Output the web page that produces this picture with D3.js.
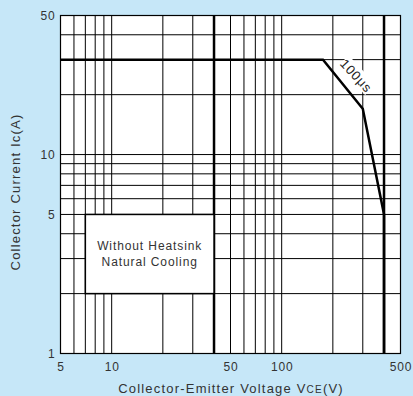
<!DOCTYPE html>
<html><head><meta charset="utf-8">
<script src="https://cdn.jsdelivr.net/npm/d3@7"></script>
<style>
html,body{margin:0;padding:0;background:#c6e7f8;}
svg{display:block;font-family:"Liberation Sans",Arial,sans-serif;}
</style></head>
<body>
<script>
// Data
const xGrid = [6,7,8,9,10,20,30,40,50,60,70,80,90,100,200,300,400];
const xThick = [40,400];
const yGrid = [2,3,4,5,6,7,8,9,10,20,30,40];
const xTickLabels = [5,10,50,100,500];
const yTickLabels = [1,5,10,50];
const soaVoltage = [5,175,300,400,400];
const soaCurrent = [30,30,17,5,1];
const boxVoltage = [7,40];
const boxCurrent = [5,2];
const boxLines = ["Without Heatsink","Natural Cooling"];
const pulseLabel = "100μs";

const W=413,H=396;
const svg=d3.select("body").append("svg").attr("width",W).attr("height",H);
svg.append("rect").attr("width",W).attr("height",H).attr("fill","#c6e7f8");

const x=d3.scaleLog().domain([5,500]).range([60.5,400.5]);
const y=d3.scaleLog().domain([1,50]).range([353.5,15.5]);

svg.append("rect").attr("x",x(5)).attr("y",y(50)).attr("width",x(500)-x(5)).attr("height",y(1)-y(50)).attr("fill","#fff");

const g=svg.append("g");
g.selectAll("line.vx").data(xGrid).join("line")
 .attr("x1",d=>x(d)).attr("x2",d=>x(d)).attr("y1",y(50)).attr("y2",y(1))
 .attr("stroke","#000").attr("stroke-width",d=>xThick.includes(d)?2.5:1);
g.selectAll("line.hy").data(yGrid).join("line")
 .attr("x1",x(5)).attr("x2",x(500)).attr("y1",d=>y(d)).attr("y2",d=>y(d))
 .attr("stroke","#000").attr("stroke-width",1);

// border
svg.append("rect").attr("x",x(5)).attr("y",y(50)).attr("width",x(500)-x(5)).attr("height",y(1)-y(50))
 .attr("fill","none").attr("stroke","#000").attr("stroke-width",1.2);

// box
svg.append("rect").attr("x",x(boxVoltage[0])).attr("y",y(boxCurrent[0]))
 .attr("width",x(boxVoltage[1])-x(boxVoltage[0])).attr("height",y(boxCurrent[1])-y(boxCurrent[0]))
 .attr("fill","#fff").attr("stroke","#000").attr("stroke-width",1.5);
const bcx=(x(boxVoltage[0])+x(boxVoltage[1]))/2;
svg.selectAll("text.box").data(boxLines).join("text")
 .attr("x",bcx).attr("y",(d,i)=>249.5+i*16).attr("text-anchor","middle")
 .attr("font-size",12).attr("letter-spacing",0.9).attr("fill","#333").text(d=>d);

// SOA line
const pts=soaVoltage.map((v,i)=>[x(v),y(soaCurrent[i])]);
svg.append("path").attr("d",d3.line()(pts)).attr("fill","none").attr("stroke","#000")
 .attr("stroke-width",2.5).attr("stroke-linejoin","miter");

// 100us label
const lx=(x(soaVoltage[1])+x(soaVoltage[2]))/2+13, ly=(y(soaCurrent[1])+y(soaCurrent[2]))/2-8;
const lg=svg.append("g").attr("transform",`translate(${lx},${ly}) rotate(47)`);
lg.append("rect").attr("x",-20).attr("y",-9).attr("width",40).attr("height",15).attr("fill","#fff");
lg.append("text").attr("x",0).attr("y",4).attr("text-anchor","middle").attr("font-size",13)
 .attr("letter-spacing",0.9).attr("fill","#222").text(pulseLabel);

// axes
const ax=svg.append("g").attr("transform",`translate(0,${y(1)})`)
 .call(d3.axisBottom(x).tickValues(xTickLabels).tickFormat(d3.format("d")).tickSize(0).tickPadding(9));
const ay=svg.append("g").attr("transform",`translate(${x(5)},0)`)
 .call(d3.axisLeft(y).tickValues(yTickLabels).tickFormat(d3.format("d")).tickSize(0).tickPadding(5));
[ax,ay].forEach(a=>{a.select(".domain").remove();
 a.selectAll("text").attr("font-size",12).attr("letter-spacing",0.8).attr("fill","#333")
  .attr("font-family","Liberation Sans,Arial,sans-serif");});

// titles
const xt=svg.append("text").attr("x",231).attr("y",393).attr("text-anchor","middle")
 .attr("font-size",13).attr("letter-spacing",1.2).attr("fill","#333");
xt.append("tspan").text("Collector-Emitter Voltage V");
xt.append("tspan").attr("font-size",10).text("CE");
xt.append("tspan").text("(V)");
svg.append("text").attr("transform","translate(20,192) rotate(-90)").attr("text-anchor","middle")
 .attr("font-size",13).attr("letter-spacing",1.2).attr("fill","#333").text("Collector Current Ic(A)");
</script>
</body></html>
